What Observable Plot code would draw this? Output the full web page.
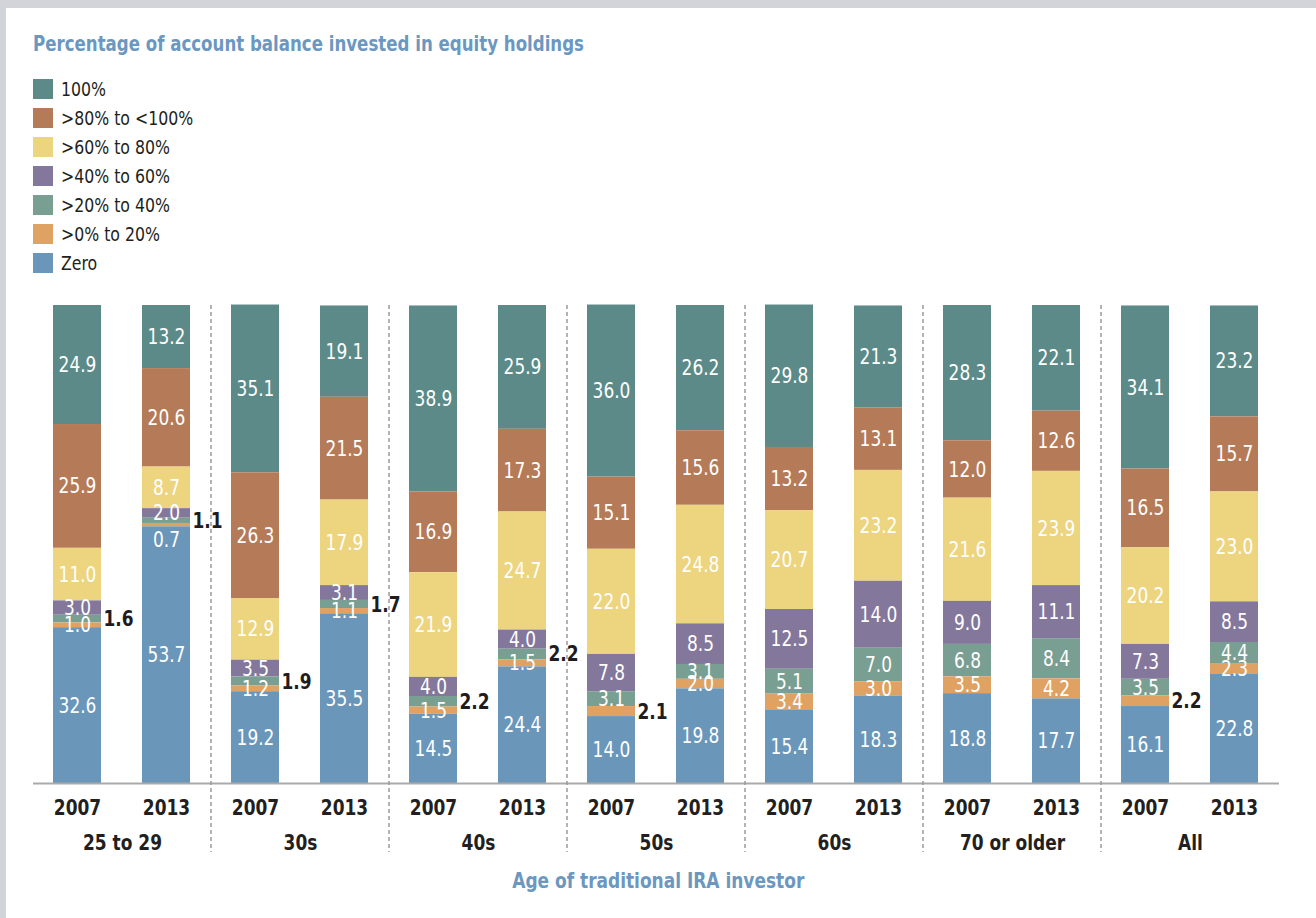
<!DOCTYPE html>
<html>
<head>
<meta charset="utf-8">
<script src="https://cdn.jsdelivr.net/npm/d3@7"></script>
<script src="https://cdn.jsdelivr.net/npm/@observablehq/plot@0.6"></script>
<style>
  html, body { margin: 0; padding: 0; width: 1316px; height: 918px; overflow: hidden; background: #d3d4d9; }
  body { position: relative; font-family: "Liberation Sans Narrow", "DejaVu Sans Condensed", "Roboto Condensed", sans-serif; font-stretch: condensed; }
  #panel { position: absolute; left: 6px; top: 8px; right: 0; bottom: 0; background: #fff; }
  .narrow { transform-origin: 0 50%; transform: scaleX(0.88); white-space: nowrap; }
  #title { position: absolute; left: 33px; top: 32px; font-size: 21px; font-weight: bold; color: #6c97bf; }
  #legend { position: absolute; left: 33px; top: 74.5px; }
  #legend .row { display: flex; align-items: center; height: 29px; }
  #legend .sw { width: 20px; height: 20px; margin-right: 8px; flex: none; }
  #legend .lab { font-size: 20px; color: #231f20; line-height: 20px; transform-origin: 0 50%; transform: scaleX(0.875); white-space: nowrap; }
  #chart { position: absolute; left: 0; top: 290px; }
  #xtitle { position: absolute; left: 0; width: 1316px; top: 869px; text-align: center; }
  #xtitle span { display: inline-block; font-size: 21px; font-weight: bold; color: #6c97bf; transform-origin: 50% 50%; transform: scaleX(0.9); white-space: nowrap; }
</style>
</head>
<body>
<div id="panel"></div>
<div id="title" class="narrow">Percentage of account balance invested in equity holdings</div>
<div id="legend"></div>
<div id="chart"></div>
<div id="xtitle"><span>Age of traditional IRA investor</span></div>
<script>
// ---- data ----
const groups = ["25 to 29", "30s", "40s", "50s", "60s", "70 or older", "All"];
const years = ["2007", "2013"];
const categories = ["100%", ">80% to <100%", ">60% to 80%", ">40% to 60%", ">20% to 40%", ">0% to 20%", "Zero"];
const colors = ["#5b8a88", "#b57b58", "#edd47f", "#84779c", "#799e92", "#dfa262", "#6a96ba"];

// values per category, ordered group by group, 2007 then 2013
const pct100  = [24.9, 13.2, 35.1, 19.1, 38.9, 25.9, 36.0, 26.2, 29.8, 21.3, 28.3, 22.1, 34.1, 23.2];
const pct80   = [25.9, 20.6, 26.3, 21.5, 16.9, 17.3, 15.1, 15.6, 13.2, 13.1, 12.0, 12.6, 16.5, 15.7];
const pct60   = [11.0, 8.7, 12.9, 17.9, 21.9, 24.7, 22.0, 24.8, 20.7, 23.2, 21.6, 23.9, 20.2, 23.0];
const pct40   = [3.0, 2.0, 3.5, 3.1, 4.0, 4.0, 7.8, 8.5, 12.5, 14.0, 9.0, 11.1, 7.3, 8.5];
const pct20   = [1.6, 1.1, 1.9, 1.7, 2.2, 2.2, 3.1, 3.1, 5.1, 7.0, 6.8, 8.4, 3.5, 4.4];
const pct0    = [1.0, 0.7, 1.2, 1.1, 1.5, 1.5, 2.1, 2.0, 3.4, 3.0, 3.5, 4.2, 2.2, 2.3];
const pctZero = [32.6, 53.7, 19.2, 35.5, 14.5, 24.4, 14.0, 19.8, 15.4, 18.3, 18.8, 17.7, 16.1, 22.8];
const series = [pct100, pct80, pct60, pct40, pct20, pct0, pctZero];

// labels drawn outside (to the right of) the bar
const outsideLabels = [
  "25 to 29|2007|>20% to 40%", "25 to 29|2013|>20% to 40%",
  "30s|2007|>20% to 40%", "30s|2013|>20% to 40%",
  "40s|2007|>20% to 40%", "40s|2013|>20% to 40%",
  "50s|2007|>0% to 20%", "All|2007|>0% to 20%"
];

// ---- table ----
const data = [];
groups.forEach((g, gi) => years.forEach((yr, yi) => categories.forEach((c, ci) => {
  data.push({group: g, year: yr, cat: c, value: series[ci][gi * 2 + yi]});
})));
const isOut = d => outsideLabels.includes(`${d.group}|${d.year}|${d.cat}`);
const isTiny = d => d.value < 1;
const fmt = d3.format(".1f");
const stackOrder = categories.slice().reverse();
const FONT = '"Liberation Sans Narrow", "DejaVu Sans Condensed", "Roboto Condensed", sans-serif';

// ---- legend ----
const legend = document.getElementById("legend");
categories.forEach((c, i) => {
  const row = document.createElement("div");
  row.className = "row";
  row.innerHTML = `<div class="sw" style="background:${colors[i]}"></div><div class="lab"></div>`;
  row.querySelector(".lab").textContent = c;
  legend.appendChild(row);
});

// ---- chart ----
const stackOpts = {fx: "group", x: "year", y: "value", z: "cat", order: stackOrder};
const chart = Plot.plot({
  width: 1316,
  height: 600,
  marginLeft: 31,
  marginRight: 35,
  marginTop: 15,
  marginBottom: 107,
  style: {fontFamily: FONT, background: "transparent", overflow: "visible"},
  fx: {domain: groups, padding: 0, axis: null, label: null},
  x: {domain: years, paddingInner: 0.456, paddingOuter: 0.2225, axis: null, label: null},
  y: {domain: [0, 100], axis: null},
  color: {domain: categories, range: colors},
  marks: [
    Plot.barY(data, Plot.stackY({...stackOpts, fill: "cat"})),
    Plot.text(data, Plot.stackY({...stackOpts, text: d => (isOut(d) || isTiny(d)) ? "" : fmt(d.value),
      fill: "white", fontSize: 22})),
    Plot.text(data, Plot.stackY({...stackOpts, text: d => (isTiny(d) && !isOut(d)) ? fmt(d.value) : "",
      fill: "white", fontSize: 22, dy: 15})),
    Plot.text(data, Plot.stackY({...stackOpts, text: d => isOut(d) ? fmt(d.value) : "",
      fill: "#1e1c1d", fontSize: 22, fontWeight: "bold", textAnchor: "start", dx: 26})),
    Plot.ruleY([0], {stroke: "#aaaaaa", strokeWidth: 2}),
    Plot.axisX({anchor: "bottom", tickSize: 0, tickPadding: 16, fontSize: 22, fontWeight: "bold", fill: "#231f20", label: null}),
    Plot.axisFx({anchor: "bottom", tickSize: 0, tickPadding: 51, fontSize: 22, fontWeight: "bold", fill: "#231f20", label: null})
  ]
});
document.getElementById("chart").appendChild(chart);
const svgNode = chart.tagName.toLowerCase() === "svg" ? chart : chart.querySelector("svg");
const svg = d3.select(svgNode);

// narrow the text horizontally (about its own anchor) to match the condensed typeface of the original
function firstLen(list) { return list && list.numberOfItems ? list.getItem(0).value : 0; }
svg.selectAll("text").each(function() {
  const tspan = this.querySelector("tspan");
  let x = firstLen(this.x.baseVal), y = firstLen(this.y.baseVal);
  if (tspan && tspan.x.baseVal.numberOfItems) { x = firstLen(tspan.x.baseVal); }
  const list = this.transform.baseVal;
  const t1 = svgNode.createSVGTransform(); t1.setTranslate(x, y);
  const t2 = svgNode.createSVGTransform(); t2.setScale(0.86, 1);
  const t3 = svgNode.createSVGTransform(); t3.setTranslate(-x, -y);
  list.appendItem(t1); list.appendItem(t2); list.appendItem(t3);
});

// dashed separators between age groups, placed from the fx scale
const fx = chart.scale("fx");
groups.slice(1).forEach(g => {
  const x = fx.apply(g);
  svg.append("line")
    .attr("x1", x).attr("x2", x)
    .attr("y1", 15).attr("y2", 562)
    .attr("stroke", "#9a9a9a").attr("stroke-width", 1.5)
    .attr("stroke-dasharray", "4,3");
});
</script>
</body>
</html>
